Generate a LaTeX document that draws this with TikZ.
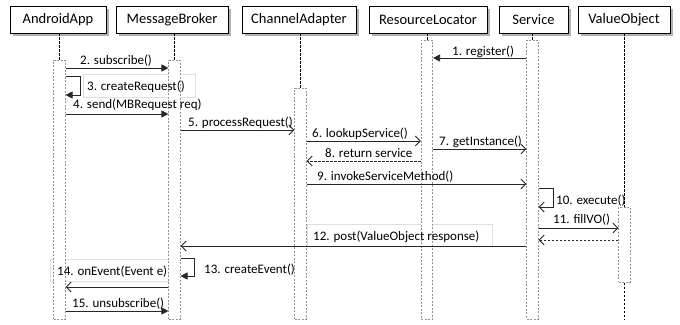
\documentclass[tikz,border=0pt]{standalone}
\usepackage{fontspec}
\setmainfont{Carlito}
\usetikzlibrary{arrows.meta,shadows,backgrounds}
\begin{document}
\begin{tikzpicture}[x=1pt,y=-1pt,
 hdr/.style={draw=black, line width=0.8pt, fill=white, minimum height=27pt, inner sep=0pt,
   font=\fontsize{14.5}{16}\selectfont,
   drop shadow={shadow xshift=2.5pt, shadow yshift=-2.5pt, fill=gray!60, opacity=1}},
 act/.style={draw=gray!85, dash pattern=on 2pt off 1.5pt, line width=0.6pt, fill=white,
   minimum width=11.5pt, inner sep=0pt, anchor=north},
 life/.style={draw=black, dash pattern=on 2.5pt off 1.5pt, line width=0.6pt},
 msg/.style={draw=black!85, line width=0.7pt},
 fa/.style={msg, -{Triangle[length=7pt,width=7pt]}},
 oa/.style={msg, -{Straight Barb[length=5pt,width=10pt,line width=0.9pt]}},
 ret/.style={oa, dash pattern=on 2.5pt off 1.5pt},
 lbl/.style={font=\fontsize{13}{15}\selectfont, anchor=base west, inner sep=0pt, text=black},
 lbox/.style={draw=gray!25, fill=white, inner sep=0pt, anchor=north west}
]
\useasboundingbox (0,0) rectangle (680,324);

% header boxes
\node[hdr, minimum width=96pt]  (aa) at (58,19.5)  {AndroidApp};
\node[hdr, minimum width=112pt] (mb) at (172,19.5) {MessageBroker};
\node[hdr, minimum width=114pt] (ca) at (299,19.5) {ChannelAdapter};
\node[hdr, minimum width=118pt] (rl) at (428,19.5) {ResourceLocator};
\node[hdr, minimum width=69pt]  (sv) at (533.5,19.5) {Service};
\node[hdr, minimum width=92pt]  (vo) at (624,19.5) {ValueObject};

% label backgrounds
\node[lbox, minimum width=112pt, minimum height=23pt] (b3)  at (83,74)  {};
\node[lbox, minimum width=185pt, minimum height=22pt] (b12) at (307,224) {};
\node[lbox, minimum width=120pt, minimum height=22pt] (b14) at (50,259) {};

% activations
\node[act, minimum height=259pt] (aaA) at (59.5,60)  {};
\node[act, minimum height=259pt] (mbA) at (174.5,60) {};
\node[act, minimum height=231pt] (caA) at (300.5,88) {};
\node[act, minimum height=279pt] (rlA) at (427,40)   {};
\node[act, minimum height=279pt] (svA) at (532.5,40) {};
\node[act, minimum height=75pt]  (voA) at (624.5,207) {};
\coordinate (voEnd) at (624.5,319);

% lifelines
\draw[life] (aaA.north |- aa.south) -- (aaA.north);
\draw[life] (mbA.north |- mb.south) -- (mbA.north);
\draw[life] (caA.north |- ca.south) -- (caA.north);
\draw[life] (rlA.north |- rl.south) -- (rlA.north);
\draw[life] (svA.north |- sv.south) -- (svA.north);
\draw[life] (voA.north |- vo.south) -- (voA.north);
\draw[life] (voA.south) -- (voEnd);

% messages
\draw[fa] (svA.west |- 0,58) -- (rlA.east |- 0,58);
\draw[fa] (aaA.east |- 0,68) -- (mbA.west |- 0,68);
\draw[fa] (aaA.east |- 0,76) -- ++(15,0) |- (aaA.east |- 0,95);
\draw[fa] (aaA.east |- 0,114) -- (mbA.west |- 0,114);
\draw[oa] (mbA.east |- 0,130) -- (caA.west |- 0,130);
\draw[oa] (caA.east |- 0,141) -- (rlA.west |- 0,141);
\draw[oa] (rlA.east |- 0,149) -- (svA.west |- 0,149);
\draw[ret] (rlA.west |- 0,161) -- (caA.east |- 0,161);
\draw[oa] (caA.east |- 0,184) -- (svA.west |- 0,184);
\draw[oa] (svA.east |- 0,188) -- ++(15,0) |- (svA.east |- 0,207);
\draw[oa] (svA.east |- 0,228) -- (voA.west |- 0,228);
\draw[ret] (voA.west |- 0,240) -- (svA.east |- 0,240);
\draw[oa] (svA.west |- 0,246) -- (mbA.east |- 0,246);
\draw[fa] (mbA.east |- 0,258) -- ++(14,0) |- (mbA.east |- 0,276);
\draw[oa] (mbA.west |- 0,287) -- (aaA.east |- 0,287);
\draw[fa] (aaA.east |- 0,311) -- (mbA.west |- 0,311);

% labels
\node[lbl] (l1)  at (452,55)  {1. register()};
\node[lbl] (l2)  at (80,64)   {2. subscribe()};
\node[lbl] (l3)  at (87,90)   {3. createRequest()};
\node[lbl] (l4)  at (73,108)  {4. send(MBRequest req)};
\node[lbl] (l5)  at (188,126) {5. processRequest()};
\node[lbl] (l6)  at (312,137) {6. lookupService()};
\node[lbl] (l7)  at (439,145) {7. getInstance()};
\node[lbl] (l8)  at (325,157) {8. return service};
\node[lbl] (l9)  at (317,180) {9. invokeServiceMethod()};
\node[lbl] (l10) at (556,204) {10. execute()};
\node[lbl] (l11) at (553,223) {11. fillVO()};
\node[lbl] (l12) at (313,240) {12. post(ValueObject response)};
\node[lbl] (l13) at (204,273) {13. createEvent()};
\node[lbl] (l14) at (57,275)  {14. onEvent(Event e)};
\node[lbl] (l15) at (72,307)  {15. unsubscribe()};
\end{tikzpicture}
\end{document}
